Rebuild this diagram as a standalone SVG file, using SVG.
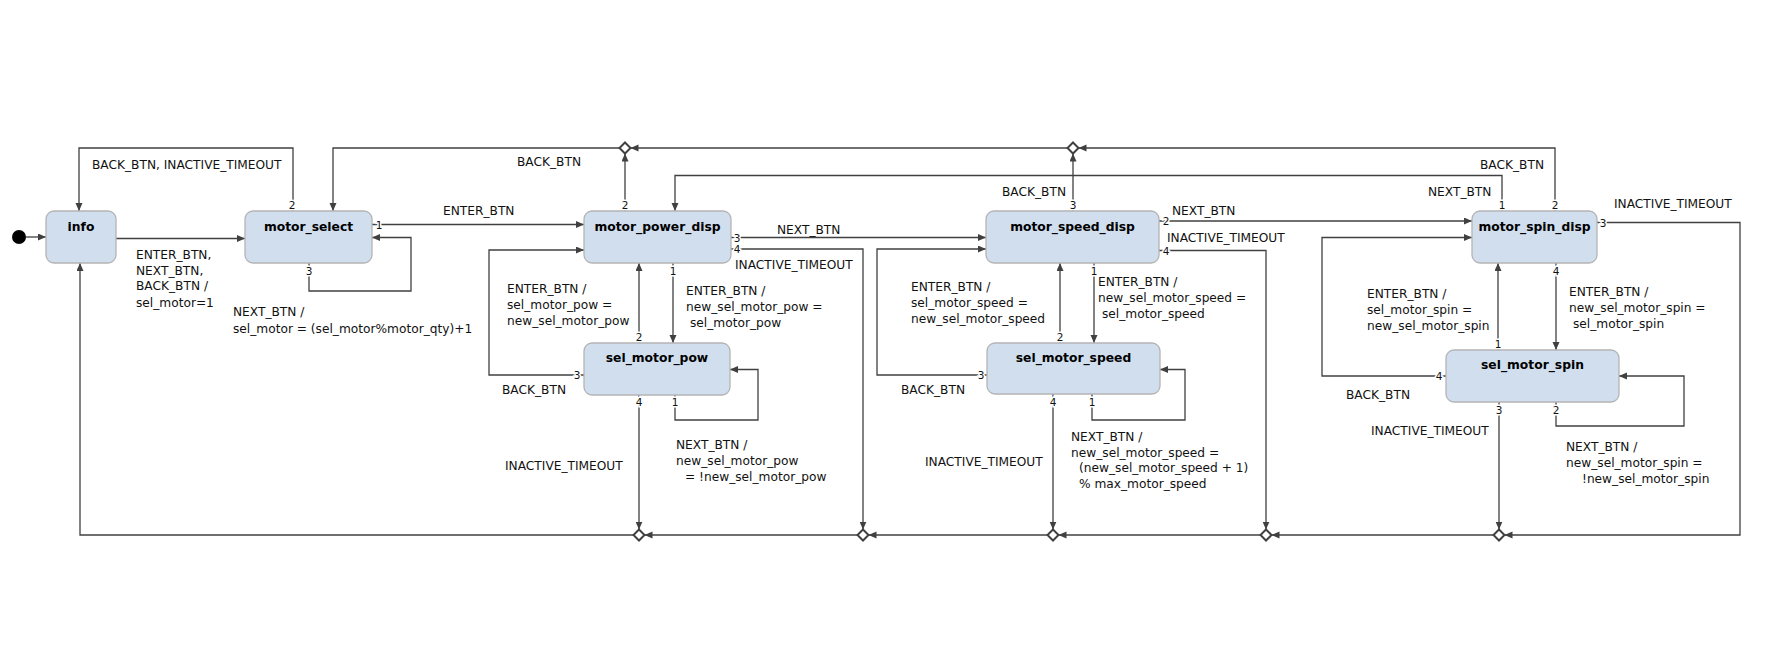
<svg xmlns="http://www.w3.org/2000/svg" width="1769" height="646" viewBox="0 0 1769 646">
<defs>
<marker id="arr" markerUnits="userSpaceOnUse" markerWidth="9" markerHeight="8" refX="8" refY="3.5" orient="auto">
<path d="M0,0 L8,3.5 L0,7 z" fill="#404040"/>
</marker>
<style>
.node rect{fill:#d0deee;stroke:#b4b4b4;stroke-width:1.3}
.title{font-family:"DejaVu Sans",Verdana,sans-serif;font-size:12.3px;font-weight:bold;fill:#000;text-anchor:middle}
.lbl{font-family:"DejaVu Sans",Verdana,sans-serif;font-size:12.2px;fill:#111}
.port{font-family:"DejaVu Sans",Verdana,sans-serif;font-size:10.5px;fill:#111;text-anchor:middle;paint-order:stroke;stroke:#fff;stroke-width:3px}
.edge{fill:none;stroke:#404040;stroke-width:1.3;marker-end:url(#arr)}
.line{fill:none;stroke:#404040;stroke-width:1.3}
.dia{fill:#fff;stroke:#404040;stroke-width:2}
</style>
</defs>
<rect width="1769" height="646" fill="#fff"/>

<g id="connectors">
<path class="edge" d="M26,237 H46"/>
<path class="edge" d="M116,238.5 H245"/>
<path class="edge" d="M293,211 V148 H79 V211"/>
<path class="edge" d="M372,224.5 H584"/>
<path class="edge" d="M309,263 V291 H411 V237.5 H372"/>
<path class="edge" d="M619.5,148 H333 V211"/>
<path class="edge" d="M625,211 V153.5"/>
<path class="edge" d="M673,263 V343"/>
<path class="edge" d="M639,343 V263"/>
<path class="edge" d="M584,375 H489 V250 H584"/>
<path class="edge" d="M675,395 V420 H758 V369.5 H730"/>
<path class="edge" d="M639,395 V529.5"/>
<path class="edge" d="M731,237.5 H986"/>
<path class="edge" d="M731,249 H863 V529.5"/>
<path class="edge" d="M987,375 H877 V249 H986"/>
<path class="edge" d="M1073,211 V153.5"/>
<path class="edge" d="M1094,263 V343"/>
<path class="edge" d="M1060,343 V263"/>
<path class="edge" d="M1092,394 V420 H1185 V369.5 H1160"/>
<path class="edge" d="M1053,394 V529.5"/>
<path class="edge" d="M1159,221 H1472"/>
<path class="edge" d="M1159,250.5 H1266 V529.5"/>
<path class="edge" d="M1446,376 H1322 V237.5 H1472"/>
<path class="edge" d="M1502,211 V175.5 H675 V211"/>
<path class="edge" d="M1555,211 V148 H1078.5"/>
<path class="edge" d="M1067.5,148 H630.5"/>
<path class="edge" d="M1556,263 V350"/>
<path class="edge" d="M1498,350 V263"/>
<path class="edge" d="M1556,402 V426 H1684 V376 H1619"/>
<path class="edge" d="M1499,402 V529.5"/>
<path class="edge" d="M1597,222.5 H1740 V535 H1504.5"/>
<path class="edge" d="M1493.5,535 H1271.5"/>
<path class="edge" d="M1260.5,535 H1058.5"/>
<path class="edge" d="M1047.5,535 H868.5"/>
<path class="edge" d="M857.5,535 H644.5"/>
<path class="edge" d="M633.5,535 H80 V263"/>

<text class="lbl" x="136" y="258.5">ENTER_BTN,</text>
<text class="lbl" x="136" y="274.5">NEXT_BTN,</text>
<text class="lbl" x="136" y="290">BACK_BTN /</text>
<text class="lbl" x="136" y="306.5">sel_motor=1</text>
<text class="lbl" x="92" y="168.5">BACK_BTN, INACTIVE_TIMEOUT</text>
<text class="lbl" x="443" y="214.5">ENTER_BTN</text>
<text class="lbl" x="233" y="316">NEXT_BTN /</text>
<text class="lbl" x="233" y="332.5">sel_motor = (sel_motor%motor_qty)+1</text>
<text class="lbl" x="517" y="166">BACK_BTN</text>
<text class="lbl" x="686" y="294.5">ENTER_BTN /</text>
<text class="lbl" x="686" y="310.5">new_sel_motor_pow =</text>
<text class="lbl" x="686" y="326.5"> <tspan x="690">sel_motor_pow</tspan></text>
<text class="lbl" x="507" y="293">ENTER_BTN /</text>
<text class="lbl" x="507" y="309">sel_motor_pow =</text>
<text class="lbl" x="507" y="325">new_sel_motor_pow</text>
<text class="lbl" x="502" y="393.5">BACK_BTN</text>
<text class="lbl" x="676" y="448.7">NEXT_BTN /</text>
<text class="lbl" x="676" y="464.7">new_sel_motor_pow</text>
<text class="lbl" x="685" y="481">= !new_sel_motor_pow</text>
<text class="lbl" x="505" y="470">INACTIVE_TIMEOUT</text>
<text class="lbl" x="777" y="233.7">NEXT_BTN</text>
<text class="lbl" x="735" y="268.7">INACTIVE_TIMEOUT</text>
<text class="lbl" x="901" y="394">BACK_BTN</text>
<text class="lbl" x="1002" y="196">BACK_BTN</text>
<text class="lbl" x="1098" y="286.2">ENTER_BTN /</text>
<text class="lbl" x="1098" y="302.2">new_sel_motor_speed =</text>
<text class="lbl" x="1102" y="317.8">sel_motor_speed</text>
<text class="lbl" x="911" y="291.2">ENTER_BTN /</text>
<text class="lbl" x="911" y="307.2">sel_motor_speed =</text>
<text class="lbl" x="911" y="323.2">new_sel_motor_speed</text>
<text class="lbl" x="1071" y="440.5">NEXT_BTN /</text>
<text class="lbl" x="1071" y="456.5">new_sel_motor_speed =</text>
<text class="lbl" x="1079" y="472.2">(new_sel_motor_speed + 1)</text>
<text class="lbl" x="1079" y="488.2">% max_motor_speed</text>
<text class="lbl" x="925" y="466.2">INACTIVE_TIMEOUT</text>
<text class="lbl" x="1172" y="215.2">NEXT_BTN</text>
<text class="lbl" x="1167" y="241.8">INACTIVE_TIMEOUT</text>
<text class="lbl" x="1346" y="398.8">BACK_BTN</text>
<text class="lbl" x="1428" y="196.2">NEXT_BTN</text>
<text class="lbl" x="1480" y="168.8">BACK_BTN</text>
<text class="lbl" x="1569" y="296.2">ENTER_BTN /</text>
<text class="lbl" x="1569" y="312.2">new_sel_motor_spin =</text>
<text class="lbl" x="1573" y="328.2">sel_motor_spin</text>
<text class="lbl" x="1367" y="297.8">ENTER_BTN /</text>
<text class="lbl" x="1367" y="313.8">sel_motor_spin =</text>
<text class="lbl" x="1367" y="329.8">new_sel_motor_spin</text>
<text class="lbl" x="1566" y="451.2">NEXT_BTN /</text>
<text class="lbl" x="1566" y="467.2">new_sel_motor_spin =</text>
<text class="lbl" x="1582" y="483.2">!new_sel_motor_spin</text>
<text class="lbl" x="1371" y="434.8">INACTIVE_TIMEOUT</text>
<text class="lbl" x="1614" y="207.8">INACTIVE_TIMEOUT</text>

<text class="port" x="292" y="209">2</text>
<text class="port" x="379" y="228.5">1</text>
<text class="port" x="309" y="274.5">3</text>
<text class="port" x="625" y="209">2</text>
<text class="port" x="673" y="274.5">1</text>
<text class="port" x="639" y="340.5">2</text>
<text class="port" x="577" y="379">3</text>
<text class="port" x="675" y="405.5">1</text>
<text class="port" x="639" y="405.5">4</text>
<text class="port" x="737" y="241.5">3</text>
<text class="port" x="737" y="253">4</text>
<text class="port" x="981" y="379">3</text>
<text class="port" x="1073" y="209">3</text>
<text class="port" x="1094" y="274.5">1</text>
<text class="port" x="1060" y="340.5">2</text>
<text class="port" x="1092" y="405.5">1</text>
<text class="port" x="1053" y="405.5">4</text>
<text class="port" x="1166" y="225">2</text>
<text class="port" x="1166" y="255">4</text>
<text class="port" x="1439" y="380">4</text>
<text class="port" x="1502" y="209">1</text>
<text class="port" x="1555" y="209">2</text>
<text class="port" x="1556" y="274.5">4</text>
<text class="port" x="1498" y="347.5">1</text>
<text class="port" x="1556" y="413.5">2</text>
<text class="port" x="1499" y="413.5">3</text>
<text class="port" x="1603" y="226.5">3</text>
</g>

<g id="init"><circle cx="19" cy="237" r="7" fill="#000"/></g>

<g id="info" class="node"><rect x="46" y="211" width="70" height="52" rx="8"/><text class="title" x="81" y="230.5">info</text></g>
<g id="motor_select" class="node"><rect x="245" y="211" width="127" height="52" rx="8"/><text class="title" x="308.5" y="230.5">motor_select</text></g>
<g id="motor_power_disp" class="node"><rect x="584" y="211" width="147" height="52" rx="8"/><text class="title" x="657.5" y="230.5">motor_power_disp</text></g>
<g id="motor_speed_disp" class="node"><rect x="986" y="211" width="173" height="52" rx="8"/><text class="title" x="1072.5" y="230.5">motor_speed_disp</text></g>
<g id="motor_spin_disp" class="node"><rect x="1472" y="211" width="125" height="52" rx="8"/><text class="title" x="1534.5" y="230.5">motor_spin_disp</text></g>
<g id="sel_motor_pow" class="node"><rect x="584" y="343" width="146" height="52" rx="8"/><text class="title" x="657" y="361.5">sel_motor_pow</text></g>
<g id="sel_motor_speed" class="node"><rect x="987" y="343" width="173" height="51" rx="8"/><text class="title" x="1073.5" y="361.5">sel_motor_speed</text></g>
<g id="sel_motor_spin" class="node"><rect x="1446" y="350" width="173" height="52" rx="8"/><text class="title" x="1532.5" y="369">sel_motor_spin</text></g>

<g id="choice_top1"><path class="dia" d="M625,142.5 L630.5,148 L625,153.5 L619.5,148 z"/></g>
<g id="choice_top2"><path class="dia" d="M1073,142.5 L1078.5,148 L1073,153.5 L1067.5,148 z"/></g>
<g id="choice_b1"><path class="dia" d="M639,529.5 L644.5,535 L639,540.5 L633.5,535 z"/></g>
<g id="choice_b2"><path class="dia" d="M863,529.5 L868.5,535 L863,540.5 L857.5,535 z"/></g>
<g id="choice_b3"><path class="dia" d="M1053,529.5 L1058.5,535 L1053,540.5 L1047.5,535 z"/></g>
<g id="choice_b4"><path class="dia" d="M1266,529.5 L1271.5,535 L1266,540.5 L1260.5,535 z"/></g>
<g id="choice_b5"><path class="dia" d="M1499,529.5 L1504.5,535 L1499,540.5 L1493.5,535 z"/></g>
</svg>
